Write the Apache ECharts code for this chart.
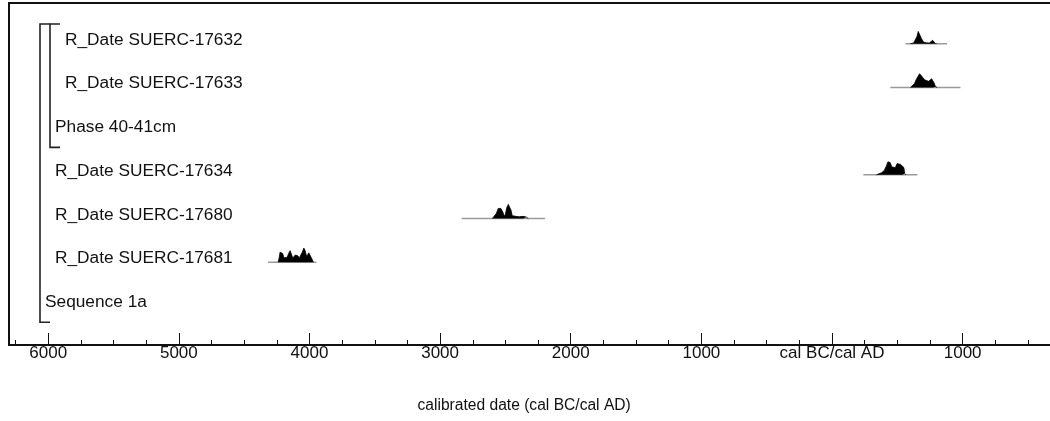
<!DOCTYPE html>
<html>
<head>
<meta charset="utf-8">
<script src="https://cdn.jsdelivr.net/npm/echarts@6/dist/echarts.min.js"></script>
<style>
html,body{margin:0;padding:0;background:#fff;}
#chart{width:1050px;height:421px;}
</style>
</head>
<body>
<div id="chart"></div>
<script>
// ---- data ----
var rowLabels = ['R_Date SUERC-17632', 'R_Date SUERC-17633', 'Phase 40-41cm',
  'R_Date SUERC-17634', 'R_Date SUERC-17680', 'R_Date SUERC-17681', 'Sequence 1a'];
// brackets: [label, first row, last row]
var brackets = [['Sequence 1a', 0, 6], ['Phase 40-41cm', 0, 2]];
// calendar years (negative = BC), likelihood range
var ranges = {
  'R_Date SUERC-17632': [562, 881],
  'R_Date SUERC-17633': [446, 983],
  'R_Date SUERC-17634': [240, 653],
  'R_Date SUERC-17680': [-2835, -2197],
  'R_Date SUERC-17681': [-4317, -3947]
};
// posterior densities: [year, relative density]
var dens17632 = [[600,0],[625,0.05],[640,0.15],[650,0.5],[660,0.85],[668,0.97],[675,0.8],[685,0.35],[700,0.12],[720,0.06],[745,0.05],[760,0.15],[770,0.24],[780,0.12],[790,0.02],[800,0]];
var dens17633 = [[600,0],[615,0.05],[630,0.25],[645,0.55],[660,0.8],[670,0.95],[680,0.85],[695,0.68],[710,0.52],[725,0.45],[740,0.42],[752,0.5],[762,0.6],[772,0.55],[782,0.3],[792,0.05],[805,0]];
var dens17634 = [[340,0],[350,0.1],[380,0.15],[400,0.3],[415,0.6],[428,0.9],[435,0.95],[445,0.85],[458,0.55],[470,0.45],[485,0.5],[498,0.78],[510,0.75],[525,0.72],[540,0.72],[550,0.5],[556,0.1],[565,0]];
var dens17680 = [[-2600,0],[-2585,0.05],[-2570,0.35],[-2555,0.7],[-2545,0.8],[-2535,0.7],[-2520,0.45],[-2508,0.15],[-2500,0.3],[-2490,0.75],[-2478,0.98],[-2468,0.95],[-2458,0.6],[-2448,0.2],[-2435,0.1],[-2420,0.15],[-2408,0.22],[-2395,0.12],[-2380,0.12],[-2365,0.15],[-2352,0.22],[-2340,0.1],[-2325,0]];
var dens17681 = [[-4240,0],[-4232,0.3],[-4225,0.7],[-4215,0.83],[-4205,0.6],[-4195,0.3],[-4185,0.28],[-4170,0.35],[-4160,0.6],[-4148,0.8],[-4138,0.55],[-4128,0.3],[-4118,0.35],[-4108,0.5],[-4100,0.57],[-4090,0.45],[-4078,0.3],[-4068,0.35],[-4055,0.7],[-4043,0.98],[-4033,0.8],[-4022,0.4],[-4015,0.4],[-4005,0.65],[-3998,0.72],[-3990,0.55],[-3980,0.2],[-3970,0]];
var densities = {
  'R_Date SUERC-17632': dens17632,
  'R_Date SUERC-17633': dens17633,
  'R_Date SUERC-17634': dens17634,
  'R_Date SUERC-17680': dens17680,
  'R_Date SUERC-17681': dens17681
};
var majorTicks = [-6000, -5000, -4000, -3000, -2000, -1000, 0, 1000, 2000];
var tickLabels = ['6000', '5000', '4000', '3000', '2000', '1000', 'cal BC/cal AD', '1000', '2000'];
var minorTicks = [-6250,-5750,-5500,-5250,-4750,-4500,-4250,-3750,-3500,-3250,-2750,-2500,-2250,-1750,-1500,-1250,-750,-500,-250,250,500,750,1250,1500,1750];
var axisTitle = 'calibrated date (cal BC/cal AD)';

// ---- layout / style ----
var X_MIN = -6300, X_MAX = 2000;
var FONT = '"Liberation Sans", Arial, Helvetica, sans-serif';
var rowIndent = [56, 56, 46, 46, 46, 46, 36];
var BASE_OFF = 0.085;   // baseline below label centre (rows)
var HEIGHT = 0.33;      // peak height (rows)

var series = [];
rowLabels.forEach(function (name, k) {
  if (!densities[name]) return;
  var base = k + BASE_OFF;
  var r = ranges[name];
  series.push({
    type: 'line', data: [[r[0], base], [r[1], base]], showSymbol: false, silent: true,
    lineStyle: { color: '#9a9a9a', width: 1.5 }, z: 2, animation: false
  });
  series.push({
    type: 'line', showSymbol: false, silent: true, animation: false, z: 3,
    data: densities[name].map(function (p) { return [p[0], base - p[1] * HEIGHT]; }),
    lineStyle: { color: '#000', width: 0.8 },
    areaStyle: { color: '#000', opacity: 1, origin: base }
  });
});

series.push({
  type: 'custom', silent: true, animation: false, z: 5,
  data: rowLabels.map(function (n, k) { return [X_MIN, k]; }),
  renderItem: function (params, api) {
    var k = api.value(1);
    var p = api.coord([X_MIN, k]);
    return {
      type: 'text',
      style: { text: rowLabels[k], x: p[0] + rowIndent[k], y: p[1], verticalAlign: 'middle',
        align: 'left', font: '17.3px ' + FONT, fill: '#111' }
    };
  }
});

series.push({
  type: 'custom', silent: true, animation: false, z: 5,
  data: brackets.map(function (b, i) { return [X_MIN, b[1], b[2], i]; }),
  renderItem: function (params, api) {
    var level = api.value(3);
    var top = api.coord([X_MIN, api.value(1)]);
    var bot = api.coord([X_MIN, api.value(2)]);
    var x = top[0] + 31 + level * 10;
    var y0 = top[1] - 16, y1 = bot[1] + 20;
    return {
      type: 'polyline',
      shape: { points: [[x + 10, y0], [x, y0], [x, y1], [x + 10, y1]] },
      style: { stroke: '#222', lineWidth: 1.6, fill: null }
    };
  }
});

var chart = echarts.init(document.getElementById('chart'), null, { renderer: 'canvas' });
chart.setOption({
  animation: false,
  backgroundColor: '#fff',
  grid: { left: 9, right: -43.3, top: 3, bottom: 76, outerBoundsMode: 'none', containLabel: false,
    show: true, borderColor: '#111', borderWidth: 2, backgroundColor: 'transparent' },
  xAxis: [{
    type: 'value', min: X_MIN, max: X_MAX, position: 'bottom',
    name: axisTitle, nameLocation: 'middle', nameGap: 53,
    nameTextStyle: { fontFamily: FONT, fontSize: 15.6, color: '#111', padding: [0, 54, 0, 0] },
    axisLine: { show: true, onZero: false, lineStyle: { color: '#111', width: 2 } },
    axisTick: { show: true, inside: true, length: 12, customValues: majorTicks, lineStyle: { color: '#111', width: 1 } },
    axisLabel: { show: true, margin: 0, customValues: majorTicks, fontFamily: FONT, fontSize: 17, color: '#111',
      formatter: function (v) { var i = majorTicks.indexOf(v); return i >= 0 ? tickLabels[i] : ''; } },
    splitLine: { show: false }
  }, {
    type: 'value', min: X_MIN, max: X_MAX, position: 'bottom', offset: 0,
    axisLine: { show: false, onZero: false },
    axisTick: { show: true, inside: true, length: 5, customValues: minorTicks, lineStyle: { color: '#111', width: 1 } },
    axisLabel: { show: false },
    splitLine: { show: false }
  }],
  yAxis: {
    type: 'value', inverse: true, min: -0.847, max: 6.979, show: false
  },
  series: series
});
</script>
</body>
</html>
